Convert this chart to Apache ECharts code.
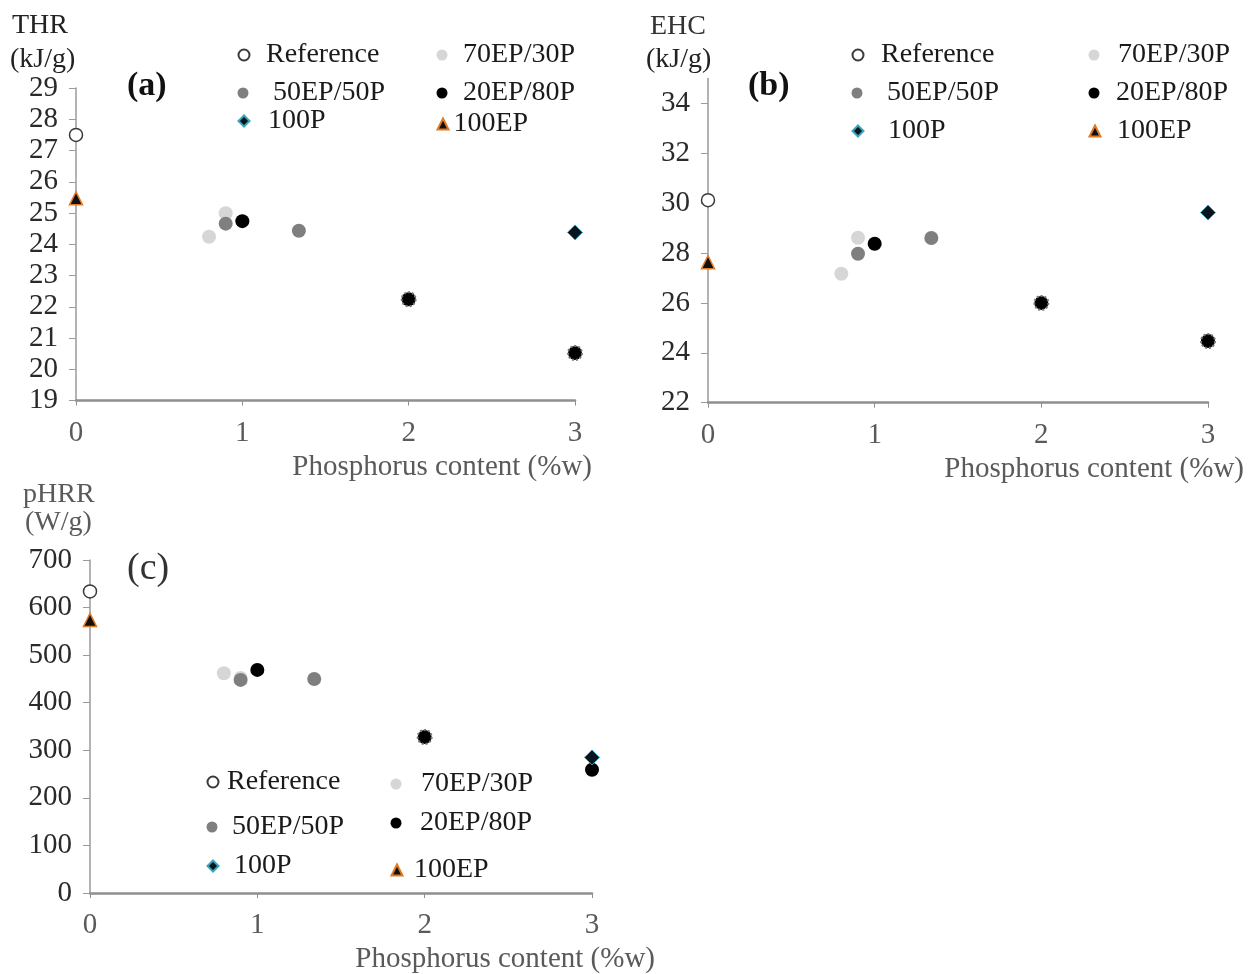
<!DOCTYPE html>
<html>
<head>
<meta charset="utf-8">
<script src="https://cdn.jsdelivr.net/npm/echarts@6/dist/echarts.min.js"></script>
<style>html,body{margin:0;padding:0;background:#fff}#c{width:1248px;height:974px}</style>
</head>
<body>
<div id="c"></div>
<script>
// ---- data ----
const seriesNames = ['Reference', '70EP/30P', '50EP/50P', '20EP/80P', '100P', '100EP'];
// phosphorus content (%w) of each sample group
const xRef = [0];
const x70 = [0.8, 0.9];
const x50 = [0.9, 1.34];
const x20 = [1, 2, 3];
const x100P = [3];
const x100EP = [0];
// (a) THR (kJ/g)
const thrRef = [27.5];
const thr70 = [24.24, 24.99];
const thr50 = [24.66, 24.43];
const thr20 = [24.74, 22.24, 20.52];
const thr100P = [24.38];
const thr100EP = [25.47];
// (b) EHC (kJ/g)
const ehcRef = [30.12];
const ehc70 = [27.17, 28.61];
const ehc50 = [27.97, 28.6];
const ehc20 = [28.37, 26.0, 24.47];
const ehc100P = [29.62];
const ehc100EP = [27.63];
// (c) pHRR (W/g)
const phrrRef = [634];
const phrr70 = [462, 452];
const phrr50 = [448, 450];
const phrr20 = [469, 328, 259];
const phrr100P = [285];
const phrr100EP = [574];
// axis tick settings
const xTicks = [0, 1, 2, 3];
const yRangeA = [19, 29, 1];
const yRangeB = [22, 35, 2];
const yRangeC = [0, 700, 100];

// ---- build ----
const FONT = 'Liberation Serif';
const xs = [xRef, x70, x50, x20, x100P, x100EP];
const panels = [
  { ys: [thrRef, thr70, thr50, thr20, thr100P, thr100EP], range: yRangeA,
    grid: { left: 76, top: 88, width: 499, height: 312.5 }, nameGap: 17, namePad: 52,
    legend: [[243, 55, 265], [442, 55, 463], [243, 93, 273], [442, 93, 463], [243, 121, 267], [442, 124, 450]] },
  { ys: [ehcRef, ehc70, ehc50, ehc20, ehc100P, ehc100EP], range: yRangeB,
    grid: { left: 708, top: 78.4, width: 500, height: 324.3 }, nameGap: 36, namePad: 52,
    legend: [[857, 55, 880], [1094, 55, 1118], [857, 93, 887], [1094, 93, 1116], [857, 131, 887], [1094, 131, 1116]] },
  { ys: [phrrRef, phrr70, phrr50, phrr20, phrr100P, phrr100EP], range: yRangeC,
    grid: { left: 90, top: 560, width: 502, height: 333 }, nameGap: 63, namePad: 52,
    legend: [[212, 782, 226], [396, 784, 421], [212, 827, 232], [396, 823, 420], [212, 866, 233], [396, 870, 413]] }
];

const styles = [
  { symbol: 'circle', symbolSize: 13, itemStyle: { color: '#ffffff', borderColor: '#3a3a3a', borderWidth: 1.5, opacity: 1 } },
  { symbol: 'circle', symbolSize: 14, itemStyle: { color: '#d6d6d6', opacity: 1 } },
  { symbol: 'circle', symbolSize: 14, itemStyle: { color: '#7f7f7f', opacity: 1 } },
  { symbol: 'circle', symbolSize: 14, itemStyle: { color: '#000000', opacity: 1 } },
  { symbol: 'diamond', symbolSize: 15, itemStyle: { color: '#06161c', borderColor: '#3aa6bd', borderWidth: 1, opacity: 1 } },
  { symbol: 'triangle', symbolSize: 13, itemStyle: { color: '#111111', borderColor: '#e07a22', borderWidth: 1.5, opacity: 1 } }
];
const iconSize = 11;

const grids = [], xAxes = [], yAxes = [], series = [], legends = [];
panels.forEach((p, pi) => {
  grids.push(p.grid);
  xAxes.push({
    type: 'value', gridIndex: pi, min: xTicks[0], max: xTicks[xTicks.length - 1], interval: 1,
    name: 'Phosphorus content (%w)', nameLocation: 'end', nameGap: p.nameGap,
    nameTextStyle: { fontFamily: FONT, fontSize: 29, color: '#5a5a5a', align: 'right', verticalAlign: 'top', padding: [p.namePad, 0, 0, 0] },
    axisLine: { show: true, onZero: false, lineStyle: { color: '#8f8f8f', width: 2.5 } },
    axisTick: { show: true, length: 5, lineStyle: { color: '#8f8f8f' } },
    axisLabel: { fontFamily: FONT, fontSize: 29, color: '#5a5a5a', margin: 18 },
    splitLine: { show: false }
  });
  yAxes.push({
    type: 'value', gridIndex: pi, min: p.range[0], max: p.range[1], interval: p.range[2],
    axisLine: { show: true, lineStyle: { color: '#9a9a9a', width: 1.5 } },
    axisTick: { show: true, length: 7, lineStyle: { color: '#9a9a9a' } },
    axisLabel: { fontFamily: FONT, fontSize: 29, color: '#2a2a2a', margin: 18, showMaxLabel: pi !== 1 },
    splitLine: { show: false }
  });
  seriesNames.forEach((name, si) => {
    const data = xs[si].map((x, k) => {
      const item = { value: [x, p.ys[si][k]] };
      if (si === 3 && x >= 2 && !(pi === 2 && x === 3)) {
        item.itemStyle = { borderColor: '#777', borderWidth: 2, borderType: 'dotted' };
      }
      return item;
    });
    series.push(Object.assign({
      type: 'scatter', name, xAxisIndex: pi, yAxisIndex: pi, data, clip: false, z: 2 + si
    }, JSON.parse(JSON.stringify(styles[si]))));
  });
  p.legend.forEach((L, li) => {
    const [ix, cy, tx] = L;
    const leftX = ix - iconSize / 2;
    legends.push({
      data: [{ name: seriesNames[li], icon: styles[li].symbol }],
      left: leftX, top: cy - 14, padding: 0,
      itemWidth: iconSize, itemHeight: iconSize, selectedMode: false, symbolKeepAspect: true,
      textStyle: { fontFamily: FONT, fontSize: 28, color: '#1a1a1a', lineHeight: 28,
        padding: [0, 0, 0, Math.max(0, tx - (leftX + iconSize + 5))] }
    });
  });
});

const chart = echarts.init(document.getElementById('c'), null, { renderer: 'canvas' });
chart.setOption({
  backgroundColor: '#ffffff',
  animation: false,
  grid: grids, xAxis: xAxes, yAxis: yAxes, series, legend: legends,
  graphic: [
    { type: 'text', x: 12, y: 26, style: { text: 'THR', fontFamily: FONT, fontSize: 28, fill: '#222', verticalAlign: 'middle' } },
    { type: 'text', x: 10, y: 60, style: { text: '(kJ/g)', fontFamily: FONT, fontSize: 28, fill: '#222', verticalAlign: 'middle' } },
    { type: 'text', x: 127, y: 86, style: { text: '(a)', fontFamily: FONT, fontSize: 34, fontWeight: 'bold', fill: '#111', verticalAlign: 'middle' } },
    { type: 'text', x: 650, y: 27, style: { text: 'EHC', fontFamily: FONT, fontSize: 28, fill: '#333', verticalAlign: 'middle' } },
    { type: 'text', x: 646, y: 60, style: { text: '(kJ/g)', fontFamily: FONT, fontSize: 28, fill: '#222', verticalAlign: 'middle' } },
    { type: 'text', x: 748, y: 86, style: { text: '(b)', fontFamily: FONT, fontSize: 34, fontWeight: 'bold', fill: '#111', verticalAlign: 'middle' } },
    { type: 'text', x: 23, y: 495, style: { text: 'pHRR', fontFamily: FONT, fontSize: 28, fill: '#5a5a5a', verticalAlign: 'middle' } },
    { type: 'text', x: 25, y: 523, style: { text: '(W/g)', fontFamily: FONT, fontSize: 28, fill: '#5a5a5a', verticalAlign: 'middle' } },
    { type: 'text', x: 127, y: 569, style: { text: '(c)', fontFamily: FONT, fontSize: 38, fill: '#333', verticalAlign: 'middle' } }
  ]
});
</script>
</body>
</html>
